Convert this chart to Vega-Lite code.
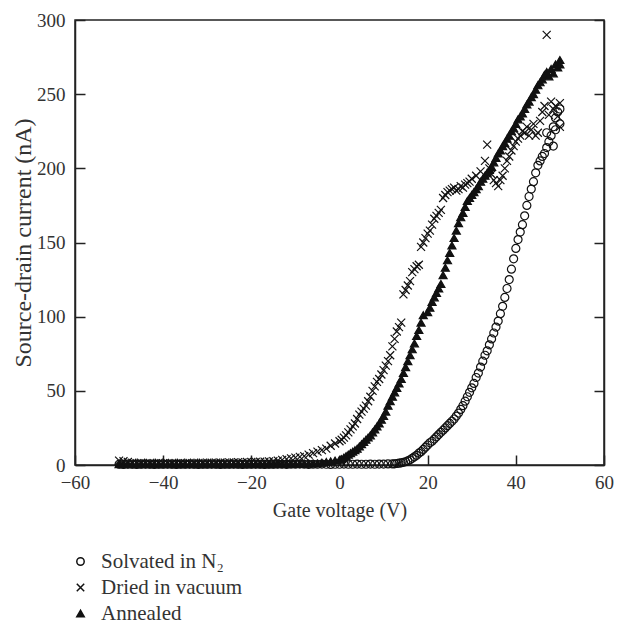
{
  "$schema": "https://vega.github.io/schema/vega-lite/v6.json",
  "width": 529,
  "height": 445,
  "autosize": {"type": "none"},
  "padding": {"left": 75, "top": 20, "right": 13, "bottom": 158},
  "config": {
    "font": "Liberation Serif",
    "view": {"stroke": "#222", "strokeWidth": 1.5},
    "axis": {
      "domainColor": "#222", "domainWidth": 1.5, "tickColor": "#222", "tickWidth": 1.5, "tickSize": -10,
      "labelFontSize": 19, "titleFontSize": 20, "labelColor": "#333", "titleColor": "#333",
      "titleFontWeight": "normal", "grid": false, "labelFlush": false, "labelOverlap": false
    },
    "legend": {"labelFontSize": 21, "labelColor": "#333"}
  },
  "datasets": {
    "pts": [
      {"v":-50,"i":0.5,"s":"Solvated in N₂"},{"v":-49,"i":0.4,"s":"Solvated in N₂"},{"v":-48,"i":0.6,"s":"Solvated in N₂"},{"v":-47,"i":0.5,"s":"Solvated in N₂"},{"v":-46,"i":0.4,"s":"Solvated in N₂"},{"v":-45,"i":0.5,"s":"Solvated in N₂"},{"v":-44,"i":0.6,"s":"Solvated in N₂"},{"v":-43,"i":0.5,"s":"Solvated in N₂"},{"v":-42,"i":0.4,"s":"Solvated in N₂"},{"v":-41,"i":0.5,"s":"Solvated in N₂"},{"v":-40,"i":0.5,"s":"Solvated in N₂"},{"v":-39,"i":0.6,"s":"Solvated in N₂"},{"v":-38,"i":0.5,"s":"Solvated in N₂"},{"v":-37,"i":0.4,"s":"Solvated in N₂"},{"v":-36,"i":0.5,"s":"Solvated in N₂"},{"v":-35,"i":0.5,"s":"Solvated in N₂"},{"v":-34,"i":0.6,"s":"Solvated in N₂"},{"v":-33,"i":0.5,"s":"Solvated in N₂"},{"v":-32,"i":0.4,"s":"Solvated in N₂"},{"v":-31,"i":0.5,"s":"Solvated in N₂"},{"v":-30,"i":0.5,"s":"Solvated in N₂"},{"v":-29,"i":0.6,"s":"Solvated in N₂"},{"v":-28,"i":0.5,"s":"Solvated in N₂"},{"v":-27,"i":0.4,"s":"Solvated in N₂"},{"v":-26,"i":0.5,"s":"Solvated in N₂"},{"v":-25,"i":0.5,"s":"Solvated in N₂"},{"v":-24,"i":0.6,"s":"Solvated in N₂"},{"v":-23,"i":0.5,"s":"Solvated in N₂"},{"v":-22,"i":0.4,"s":"Solvated in N₂"},{"v":-21,"i":0.5,"s":"Solvated in N₂"},{"v":-20,"i":0.5,"s":"Solvated in N₂"},{"v":-19,"i":0.6,"s":"Solvated in N₂"},{"v":-18,"i":0.5,"s":"Solvated in N₂"},{"v":-17,"i":0.4,"s":"Solvated in N₂"},{"v":-16,"i":0.5,"s":"Solvated in N₂"},{"v":-15,"i":0.5,"s":"Solvated in N₂"},{"v":-14,"i":0.6,"s":"Solvated in N₂"},{"v":-13,"i":0.5,"s":"Solvated in N₂"},{"v":-12,"i":0.4,"s":"Solvated in N₂"},{"v":-11,"i":0.5,"s":"Solvated in N₂"},{"v":-10,"i":0.5,"s":"Solvated in N₂"},{"v":-9,"i":0.6,"s":"Solvated in N₂"},{"v":-8,"i":0.5,"s":"Solvated in N₂"},{"v":-7,"i":0.4,"s":"Solvated in N₂"},{"v":-6,"i":0.5,"s":"Solvated in N₂"},{"v":-5,"i":0.5,"s":"Solvated in N₂"},{"v":-4,"i":0.6,"s":"Solvated in N₂"},{"v":-3,"i":0.5,"s":"Solvated in N₂"},{"v":-2,"i":0.4,"s":"Solvated in N₂"},{"v":-1,"i":0.5,"s":"Solvated in N₂"},{"v":0,"i":0.5,"s":"Solvated in N₂"},{"v":1,"i":0.6,"s":"Solvated in N₂"},{"v":2,"i":0.5,"s":"Solvated in N₂"},{"v":3,"i":0.5,"s":"Solvated in N₂"},{"v":4,"i":0.6,"s":"Solvated in N₂"},{"v":5,"i":0.5,"s":"Solvated in N₂"},{"v":6,"i":0.5,"s":"Solvated in N₂"},{"v":7,"i":0.6,"s":"Solvated in N₂"},{"v":8,"i":0.5,"s":"Solvated in N₂"},{"v":9,"i":0.6,"s":"Solvated in N₂"},{"v":10,"i":0.6,"s":"Solvated in N₂"},{"v":11,"i":0.7,"s":"Solvated in N₂"},{"v":12,"i":0.7,"s":"Solvated in N₂"},
      {"v":12.5,"i":0.8,"s":"Solvated in N₂"},{"v":13,"i":1,"s":"Solvated in N₂"},{"v":13.5,"i":1.2,"s":"Solvated in N₂"},{"v":14,"i":1.5,"s":"Solvated in N₂"},{"v":14.5,"i":1.8,"s":"Solvated in N₂"},{"v":15,"i":2.2,"s":"Solvated in N₂"},{"v":15.5,"i":2.8,"s":"Solvated in N₂"},{"v":16,"i":3.5,"s":"Solvated in N₂"},{"v":16.5,"i":4.5,"s":"Solvated in N₂"},{"v":17,"i":5.5,"s":"Solvated in N₂"},{"v":17.5,"i":6.5,"s":"Solvated in N₂"},{"v":18,"i":8,"s":"Solvated in N₂"},{"v":18.5,"i":9,"s":"Solvated in N₂"},{"v":19,"i":10.5,"s":"Solvated in N₂"},{"v":19.5,"i":12,"s":"Solvated in N₂"},{"v":20,"i":13.5,"s":"Solvated in N₂"},{"v":20.5,"i":15,"s":"Solvated in N₂"},{"v":21,"i":16,"s":"Solvated in N₂"},{"v":21.5,"i":17.5,"s":"Solvated in N₂"},{"v":22,"i":19,"s":"Solvated in N₂"},{"v":22.5,"i":20.5,"s":"Solvated in N₂"},{"v":23,"i":22,"s":"Solvated in N₂"},{"v":23.5,"i":23.5,"s":"Solvated in N₂"},{"v":24,"i":25,"s":"Solvated in N₂"},{"v":24.5,"i":26.5,"s":"Solvated in N₂"},{"v":25,"i":28,"s":"Solvated in N₂"},{"v":25.5,"i":29.5,"s":"Solvated in N₂"},{"v":26,"i":31,"s":"Solvated in N₂"},{"v":26.5,"i":33,"s":"Solvated in N₂"},{"v":27,"i":35,"s":"Solvated in N₂"},{"v":27.5,"i":37.5,"s":"Solvated in N₂"},{"v":28,"i":40,"s":"Solvated in N₂"},{"v":28.5,"i":43,"s":"Solvated in N₂"},{"v":29,"i":46,"s":"Solvated in N₂"},{"v":29.5,"i":49,"s":"Solvated in N₂"},{"v":30,"i":52,"s":"Solvated in N₂"},{"v":30.5,"i":55,"s":"Solvated in N₂"},{"v":31,"i":59,"s":"Solvated in N₂"},{"v":31.5,"i":62,"s":"Solvated in N₂"},{"v":32,"i":66,"s":"Solvated in N₂"},{"v":32.5,"i":70,"s":"Solvated in N₂"},{"v":33,"i":74,"s":"Solvated in N₂"},{"v":33.5,"i":77,"s":"Solvated in N₂"},{"v":34,"i":81,"s":"Solvated in N₂"},{"v":34.5,"i":85,"s":"Solvated in N₂"},{"v":35,"i":89,"s":"Solvated in N₂"},{"v":35.5,"i":93,"s":"Solvated in N₂"},{"v":36,"i":97,"s":"Solvated in N₂"},{"v":36.5,"i":102,"s":"Solvated in N₂"},{"v":37,"i":107,"s":"Solvated in N₂"},{"v":37.5,"i":113,"s":"Solvated in N₂"},{"v":38,"i":119,"s":"Solvated in N₂"},{"v":38.5,"i":125,"s":"Solvated in N₂"},{"v":39,"i":132,"s":"Solvated in N₂"},{"v":39.5,"i":139,"s":"Solvated in N₂"},{"v":40,"i":146,"s":"Solvated in N₂"},{"v":40.5,"i":152,"s":"Solvated in N₂"},{"v":41,"i":157,"s":"Solvated in N₂"},{"v":41.5,"i":162,"s":"Solvated in N₂"},{"v":42,"i":168,"s":"Solvated in N₂"},{"v":42.5,"i":175,"s":"Solvated in N₂"},{"v":43,"i":181,"s":"Solvated in N₂"},{"v":43.5,"i":186,"s":"Solvated in N₂"},{"v":44,"i":191,"s":"Solvated in N₂"},{"v":44.5,"i":197,"s":"Solvated in N₂"},{"v":45,"i":202,"s":"Solvated in N₂"},{"v":45.5,"i":205,"s":"Solvated in N₂"},{"v":46,"i":208,"s":"Solvated in N₂"},{"v":46.5,"i":210,"s":"Solvated in N₂"},{"v":47,"i":214,"s":"Solvated in N₂"},{"v":47.5,"i":218,"s":"Solvated in N₂"},{"v":48,"i":222,"s":"Solvated in N₂"},{"v":48.5,"i":228,"s":"Solvated in N₂"},{"v":49,"i":234,"s":"Solvated in N₂"},{"v":49.5,"i":238,"s":"Solvated in N₂"},{"v":50,"i":240,"s":"Solvated in N₂"},{"v":47,"i":224,"s":"Solvated in N₂"},{"v":48.5,"i":215,"s":"Solvated in N₂"},{"v":49,"i":226,"s":"Solvated in N₂"},{"v":50,"i":230,"s":"Solvated in N₂"},

      {"v":-50,"i":3,"s":"Dried in vacuum"},{"v":-49,"i":2.5,"s":"Dried in vacuum"},{"v":-48,"i":2,"s":"Dried in vacuum"},{"v":-47,"i":1.5,"s":"Dried in vacuum"},{"v":-46,"i":1.2,"s":"Dried in vacuum"},{"v":-45,"i":1.5,"s":"Dried in vacuum"},{"v":-44,"i":1.2,"s":"Dried in vacuum"},{"v":-43,"i":1.4,"s":"Dried in vacuum"},{"v":-42,"i":1.2,"s":"Dried in vacuum"},{"v":-41,"i":1.5,"s":"Dried in vacuum"},{"v":-40,"i":1.3,"s":"Dried in vacuum"},{"v":-39,"i":1.2,"s":"Dried in vacuum"},{"v":-38,"i":1.4,"s":"Dried in vacuum"},{"v":-37,"i":1.3,"s":"Dried in vacuum"},{"v":-36,"i":1.5,"s":"Dried in vacuum"},{"v":-35,"i":1.3,"s":"Dried in vacuum"},{"v":-34,"i":1.4,"s":"Dried in vacuum"},{"v":-33,"i":1.5,"s":"Dried in vacuum"},{"v":-32,"i":1.4,"s":"Dried in vacuum"},{"v":-31,"i":1.5,"s":"Dried in vacuum"},{"v":-30,"i":1.6,"s":"Dried in vacuum"},{"v":-29,"i":1.5,"s":"Dried in vacuum"},{"v":-28,"i":1.6,"s":"Dried in vacuum"},{"v":-27,"i":1.7,"s":"Dried in vacuum"},{"v":-26,"i":1.6,"s":"Dried in vacuum"},{"v":-25,"i":1.8,"s":"Dried in vacuum"},{"v":-24,"i":1.7,"s":"Dried in vacuum"},{"v":-23,"i":1.9,"s":"Dried in vacuum"},{"v":-22,"i":1.8,"s":"Dried in vacuum"},{"v":-21,"i":2,"s":"Dried in vacuum"},{"v":-20,"i":2,"s":"Dried in vacuum"},{"v":-19,"i":2.1,"s":"Dried in vacuum"},{"v":-18,"i":2.2,"s":"Dried in vacuum"},{"v":-17,"i":2.3,"s":"Dried in vacuum"},{"v":-16,"i":2.4,"s":"Dried in vacuum"},{"v":-15,"i":2.5,"s":"Dried in vacuum"},{"v":-14,"i":3,"s":"Dried in vacuum"},{"v":-13,"i":3.5,"s":"Dried in vacuum"},{"v":-12,"i":4,"s":"Dried in vacuum"},{"v":-11,"i":4.5,"s":"Dried in vacuum"},{"v":-10,"i":5,"s":"Dried in vacuum"},{"v":-9,"i":5.5,"s":"Dried in vacuum"},{"v":-8,"i":6,"s":"Dried in vacuum"},{"v":-7,"i":7,"s":"Dried in vacuum"},{"v":-6,"i":8,"s":"Dried in vacuum"},{"v":-5,"i":9,"s":"Dried in vacuum"},{"v":-4,"i":10,"s":"Dried in vacuum"},{"v":-3,"i":11,"s":"Dried in vacuum"},{"v":-2,"i":13,"s":"Dried in vacuum"},{"v":-1,"i":14.5,"s":"Dried in vacuum"},{"v":0,"i":16,"s":"Dried in vacuum"},{"v":0.5,"i":17,"s":"Dried in vacuum"},{"v":1,"i":18.5,"s":"Dried in vacuum"},{"v":1.5,"i":20,"s":"Dried in vacuum"},{"v":2,"i":22,"s":"Dried in vacuum"},{"v":2.5,"i":24,"s":"Dried in vacuum"},{"v":3,"i":26,"s":"Dried in vacuum"},{"v":3.5,"i":28,"s":"Dried in vacuum"},{"v":4,"i":31,"s":"Dried in vacuum"},{"v":4.5,"i":34,"s":"Dried in vacuum"},{"v":5,"i":36,"s":"Dried in vacuum"},{"v":5.5,"i":38,"s":"Dried in vacuum"},{"v":6,"i":40,"s":"Dried in vacuum"},{"v":6.5,"i":43,"s":"Dried in vacuum"},{"v":7,"i":46,"s":"Dried in vacuum"},{"v":7.5,"i":50,"s":"Dried in vacuum"},{"v":8,"i":53,"s":"Dried in vacuum"},{"v":8.5,"i":56,"s":"Dried in vacuum"},{"v":9,"i":58,"s":"Dried in vacuum"},{"v":9.5,"i":61,"s":"Dried in vacuum"},{"v":10,"i":64,"s":"Dried in vacuum"},{"v":10.5,"i":67,"s":"Dried in vacuum"},{"v":11,"i":70,"s":"Dried in vacuum"},{"v":11.5,"i":74,"s":"Dried in vacuum"},{"v":12,"i":80,"s":"Dried in vacuum"},{"v":12.5,"i":85,"s":"Dried in vacuum"},{"v":13,"i":90,"s":"Dried in vacuum"},{"v":13.5,"i":93,"s":"Dried in vacuum"},{"v":14,"i":96,"s":"Dried in vacuum"},{"v":14.5,"i":115,"s":"Dried in vacuum"},{"v":15,"i":118,"s":"Dried in vacuum"},{"v":15.5,"i":121,"s":"Dried in vacuum"},{"v":16,"i":124,"s":"Dried in vacuum"},{"v":16.5,"i":130,"s":"Dried in vacuum"},{"v":17,"i":132,"s":"Dried in vacuum"},{"v":17.5,"i":134,"s":"Dried in vacuum"},{"v":18,"i":135,"s":"Dried in vacuum"},{"v":18.5,"i":147,"s":"Dried in vacuum"},{"v":19,"i":150,"s":"Dried in vacuum"},{"v":19.5,"i":153,"s":"Dried in vacuum"},{"v":20,"i":156,"s":"Dried in vacuum"},{"v":20.5,"i":158,"s":"Dried in vacuum"},{"v":21,"i":162,"s":"Dried in vacuum"},{"v":21.5,"i":166,"s":"Dried in vacuum"},{"v":22,"i":168,"s":"Dried in vacuum"},{"v":22.5,"i":170,"s":"Dried in vacuum"},{"v":23,"i":172,"s":"Dried in vacuum"},{"v":23.5,"i":180,"s":"Dried in vacuum"},{"v":24,"i":182,"s":"Dried in vacuum"},{"v":24.5,"i":184,"s":"Dried in vacuum"},{"v":25,"i":185,"s":"Dried in vacuum"},{"v":25.5,"i":186,"s":"Dried in vacuum"},{"v":26,"i":187,"s":"Dried in vacuum"},{"v":26.5,"i":185,"s":"Dried in vacuum"},{"v":27,"i":186,"s":"Dried in vacuum"},{"v":27.5,"i":188,"s":"Dried in vacuum"},{"v":28,"i":187,"s":"Dried in vacuum"},{"v":28.5,"i":189,"s":"Dried in vacuum"},{"v":29,"i":190,"s":"Dried in vacuum"},{"v":29.5,"i":191,"s":"Dried in vacuum"},{"v":30,"i":193,"s":"Dried in vacuum"},{"v":31,"i":195,"s":"Dried in vacuum"},{"v":32,"i":198,"s":"Dried in vacuum"},{"v":33,"i":205,"s":"Dried in vacuum"},{"v":33.5,"i":216,"s":"Dried in vacuum"},{"v":34,"i":200,"s":"Dried in vacuum"},{"v":34.5,"i":196,"s":"Dried in vacuum"},{"v":35,"i":192,"s":"Dried in vacuum"},{"v":35.5,"i":190,"s":"Dried in vacuum"},{"v":36,"i":188,"s":"Dried in vacuum"},{"v":36.5,"i":192,"s":"Dried in vacuum"},{"v":37,"i":195,"s":"Dried in vacuum"},{"v":37.5,"i":200,"s":"Dried in vacuum"},{"v":38,"i":205,"s":"Dried in vacuum"},{"v":38.5,"i":208,"s":"Dried in vacuum"},{"v":39,"i":212,"s":"Dried in vacuum"},{"v":39.5,"i":215,"s":"Dried in vacuum"},{"v":40,"i":218,"s":"Dried in vacuum"},{"v":40.5,"i":220,"s":"Dried in vacuum"},{"v":41,"i":222,"s":"Dried in vacuum"},{"v":41.5,"i":225,"s":"Dried in vacuum"},{"v":42,"i":224,"s":"Dried in vacuum"},{"v":42.5,"i":228,"s":"Dried in vacuum"},{"v":43,"i":222,"s":"Dried in vacuum"},{"v":43.5,"i":226,"s":"Dried in vacuum"},{"v":44,"i":230,"s":"Dried in vacuum"},{"v":44.5,"i":222,"s":"Dried in vacuum"},{"v":45,"i":224,"s":"Dried in vacuum"},{"v":45.5,"i":232,"s":"Dried in vacuum"},{"v":46,"i":238,"s":"Dried in vacuum"},{"v":46.5,"i":242,"s":"Dried in vacuum"},{"v":47,"i":290,"s":"Dried in vacuum"},{"v":47.5,"i":236,"s":"Dried in vacuum"},{"v":48,"i":245,"s":"Dried in vacuum"},{"v":48.5,"i":240,"s":"Dried in vacuum"},{"v":49,"i":242,"s":"Dried in vacuum"},{"v":49.5,"i":235,"s":"Dried in vacuum"},{"v":50,"i":228,"s":"Dried in vacuum"},{"v":50,"i":244,"s":"Dried in vacuum"},

      {"v":-50,"i":0.6,"s":"Annealed"},{"v":-49,"i":0.5,"s":"Annealed"},{"v":-48,"i":0.5,"s":"Annealed"},{"v":-47,"i":0.6,"s":"Annealed"},{"v":-46,"i":0.5,"s":"Annealed"},{"v":-45,"i":0.5,"s":"Annealed"},{"v":-44,"i":0.6,"s":"Annealed"},{"v":-43,"i":0.5,"s":"Annealed"},{"v":-42,"i":0.5,"s":"Annealed"},{"v":-41,"i":0.6,"s":"Annealed"},{"v":-40,"i":0.5,"s":"Annealed"},{"v":-39,"i":0.5,"s":"Annealed"},{"v":-38,"i":0.6,"s":"Annealed"},{"v":-37,"i":0.5,"s":"Annealed"},{"v":-36,"i":0.5,"s":"Annealed"},{"v":-35,"i":0.6,"s":"Annealed"},{"v":-34,"i":0.5,"s":"Annealed"},{"v":-33,"i":0.5,"s":"Annealed"},{"v":-32,"i":0.6,"s":"Annealed"},{"v":-31,"i":0.5,"s":"Annealed"},{"v":-30,"i":0.5,"s":"Annealed"},{"v":-29,"i":0.6,"s":"Annealed"},{"v":-28,"i":0.5,"s":"Annealed"},{"v":-27,"i":0.5,"s":"Annealed"},{"v":-26,"i":0.6,"s":"Annealed"},{"v":-25,"i":0.5,"s":"Annealed"},{"v":-24,"i":0.5,"s":"Annealed"},{"v":-23,"i":0.6,"s":"Annealed"},{"v":-22,"i":0.5,"s":"Annealed"},{"v":-21,"i":0.5,"s":"Annealed"},{"v":-20,"i":0.6,"s":"Annealed"},{"v":-19,"i":0.5,"s":"Annealed"},{"v":-18,"i":0.5,"s":"Annealed"},{"v":-17,"i":0.6,"s":"Annealed"},{"v":-16,"i":0.5,"s":"Annealed"},{"v":-15,"i":0.6,"s":"Annealed"},{"v":-14,"i":0.6,"s":"Annealed"},{"v":-13,"i":0.7,"s":"Annealed"},{"v":-12,"i":0.7,"s":"Annealed"},{"v":-11,"i":0.7,"s":"Annealed"},{"v":-10,"i":0.8,"s":"Annealed"},{"v":-9,"i":0.8,"s":"Annealed"},{"v":-8,"i":0.9,"s":"Annealed"},{"v":-7,"i":0.9,"s":"Annealed"},{"v":-6,"i":1,"s":"Annealed"},{"v":-5,"i":1,"s":"Annealed"},{"v":-4,"i":1.5,"s":"Annealed"},{"v":-3,"i":2,"s":"Annealed"},{"v":-2,"i":2.5,"s":"Annealed"},{"v":-1,"i":3,"s":"Annealed"},{"v":0,"i":3.5,"s":"Annealed"},{"v":0.5,"i":4,"s":"Annealed"},{"v":1,"i":5,"s":"Annealed"},{"v":1.5,"i":6,"s":"Annealed"},{"v":2,"i":7,"s":"Annealed"},{"v":2.5,"i":8,"s":"Annealed"},{"v":3,"i":9,"s":"Annealed"},{"v":3.5,"i":10,"s":"Annealed"},{"v":4,"i":11,"s":"Annealed"},{"v":4.5,"i":12.5,"s":"Annealed"},{"v":5,"i":14,"s":"Annealed"},{"v":5.5,"i":15.5,"s":"Annealed"},{"v":6,"i":17,"s":"Annealed"},{"v":6.5,"i":18.5,"s":"Annealed"},{"v":7,"i":20,"s":"Annealed"},{"v":7.5,"i":22,"s":"Annealed"},{"v":8,"i":24,"s":"Annealed"},{"v":8.5,"i":26,"s":"Annealed"},{"v":9,"i":28,"s":"Annealed"},{"v":9.5,"i":30.5,"s":"Annealed"},{"v":10,"i":33,"s":"Annealed"},{"v":10.5,"i":36,"s":"Annealed"},{"v":11,"i":40,"s":"Annealed"},{"v":11.5,"i":43,"s":"Annealed"},{"v":12,"i":46,"s":"Annealed"},{"v":12.5,"i":49,"s":"Annealed"},{"v":13,"i":52,"s":"Annealed"},{"v":13.5,"i":55,"s":"Annealed"},{"v":14,"i":58,"s":"Annealed"},{"v":14.5,"i":62,"s":"Annealed"},{"v":15,"i":66,"s":"Annealed"},{"v":15.5,"i":70,"s":"Annealed"},{"v":16,"i":74,"s":"Annealed"},{"v":16.5,"i":78,"s":"Annealed"},{"v":17,"i":82,"s":"Annealed"},{"v":17.5,"i":87,"s":"Annealed"},{"v":18,"i":91,"s":"Annealed"},{"v":18.5,"i":96,"s":"Annealed"},{"v":19,"i":101,"s":"Annealed"},{"v":20,"i":103,"s":"Annealed"},{"v":20.5,"i":106,"s":"Annealed"},{"v":21,"i":110,"s":"Annealed"},{"v":21.5,"i":113,"s":"Annealed"},{"v":22,"i":116,"s":"Annealed"},{"v":22.5,"i":119,"s":"Annealed"},{"v":23,"i":122,"s":"Annealed"},{"v":23.5,"i":128,"s":"Annealed"},{"v":24,"i":133,"s":"Annealed"},{"v":24.5,"i":138,"s":"Annealed"},{"v":25,"i":143,"s":"Annealed"},{"v":25.5,"i":148,"s":"Annealed"},{"v":26,"i":153,"s":"Annealed"},{"v":26.5,"i":158,"s":"Annealed"},{"v":27,"i":163,"s":"Annealed"},{"v":27.5,"i":167,"s":"Annealed"},{"v":28,"i":170,"s":"Annealed"},{"v":28.5,"i":174,"s":"Annealed"},{"v":29,"i":178,"s":"Annealed"},{"v":29.5,"i":180,"s":"Annealed"},{"v":30,"i":182,"s":"Annealed"},{"v":30.5,"i":184,"s":"Annealed"},{"v":31,"i":186,"s":"Annealed"},{"v":31.5,"i":188,"s":"Annealed"},{"v":32,"i":191,"s":"Annealed"},{"v":32.5,"i":193,"s":"Annealed"},{"v":33,"i":195,"s":"Annealed"},{"v":33.5,"i":197,"s":"Annealed"},{"v":34,"i":199,"s":"Annealed"},{"v":34.5,"i":201,"s":"Annealed"},{"v":35,"i":204,"s":"Annealed"},{"v":35.5,"i":207,"s":"Annealed"},{"v":36,"i":210,"s":"Annealed"},{"v":36.5,"i":212,"s":"Annealed"},{"v":37,"i":215,"s":"Annealed"},{"v":37.5,"i":217,"s":"Annealed"},{"v":38,"i":220,"s":"Annealed"},{"v":38.5,"i":222,"s":"Annealed"},{"v":39,"i":225,"s":"Annealed"},{"v":39.5,"i":227,"s":"Annealed"},{"v":40,"i":230,"s":"Annealed"},{"v":40.5,"i":233,"s":"Annealed"},{"v":41,"i":235,"s":"Annealed"},{"v":41.5,"i":237,"s":"Annealed"},{"v":42,"i":240,"s":"Annealed"},{"v":42.5,"i":243,"s":"Annealed"},{"v":43,"i":245,"s":"Annealed"},{"v":43.5,"i":248,"s":"Annealed"},{"v":44,"i":250,"s":"Annealed"},{"v":44.5,"i":253,"s":"Annealed"},{"v":45,"i":256,"s":"Annealed"},{"v":45.5,"i":258,"s":"Annealed"},{"v":46,"i":260,"s":"Annealed"},{"v":46.5,"i":263,"s":"Annealed"},{"v":47,"i":265,"s":"Annealed"},{"v":47.5,"i":262,"s":"Annealed"},{"v":48,"i":267,"s":"Annealed"},{"v":48.5,"i":264,"s":"Annealed"},{"v":49,"i":270,"s":"Annealed"},{"v":49.5,"i":268,"s":"Annealed"},{"v":50,"i":273,"s":"Annealed"},{"v":50,"i":270,"s":"Annealed"}
    ]
  },
  "data": {"name": "pts"},
  "layer": [
    {
      "mark": {"type": "point", "size": 64, "strokeWidth": 1.2, "opacity": 1, "stroke": "#111"},
      "encoding": {
        "x": {"field": "v", "type": "quantitative", "scale": {"domain": [-60, 60]},
              "axis": {"title": "Gate voltage (V)", "values": [-60, -40, -20, 0, 20, 40, 60], "labelPadding": 18, "titlePadding": 8}},
        "y": {"field": "i", "type": "quantitative", "scale": {"domain": [0, 300]},
              "axis": {"title": "Source-drain current (nA)", "titleFontSize": 24, "values": [0, 50, 100, 150, 200, 250, 300], "labelPadding": 20, "titlePadding": 1}},
        "shape": {"field": "s", "type": "nominal",
                  "scale": {"domain": ["Solvated in N₂", "Dried in vacuum", "Annealed"], "range": ["circle", "M-1,-1L1,1M1,-1L-1,1", "triangle-up"]},
                  "legend": {"orient": "none", "legendX": -5, "legendY": 531, "title": null, "symbolSize": 55, "labelOffset": 10, "rowPadding": 4,
                             "encode": {"symbols": {"update": {"stroke": {"value": "#111"}, "strokeWidth": {"value": 1.3}}}}}},
        "fill": {"field": "s", "type": "nominal",
                 "scale": {"domain": ["Solvated in N₂", "Dried in vacuum", "Annealed"], "range": ["transparent", "transparent", "#111"]},
                 "legend": {"orient": "none", "legendX": -5, "legendY": 531, "title": null, "symbolSize": 55, "labelOffset": 10, "rowPadding": 4,
                            "encode": {"symbols": {"update": {"stroke": {"value": "#111"}, "strokeWidth": {"value": 1.3}}}}}}
      }
    },
    {
      "mark": {"type": "point", "opacity": 0},
      "encoding": {
        "x": {"field": "v", "type": "quantitative", "scale": {"domain": [-60, 60]}},
        "y": {"field": "i", "type": "quantitative", "scale": {"domain": [0, 300]},
              "axis": {"orient": "right", "labels": false, "title": null, "values": [0, 50, 100, 150, 200, 250, 300]}}
      }
    }
  ],
  "resolve": {"scale": {"y": "independent"}}
}
